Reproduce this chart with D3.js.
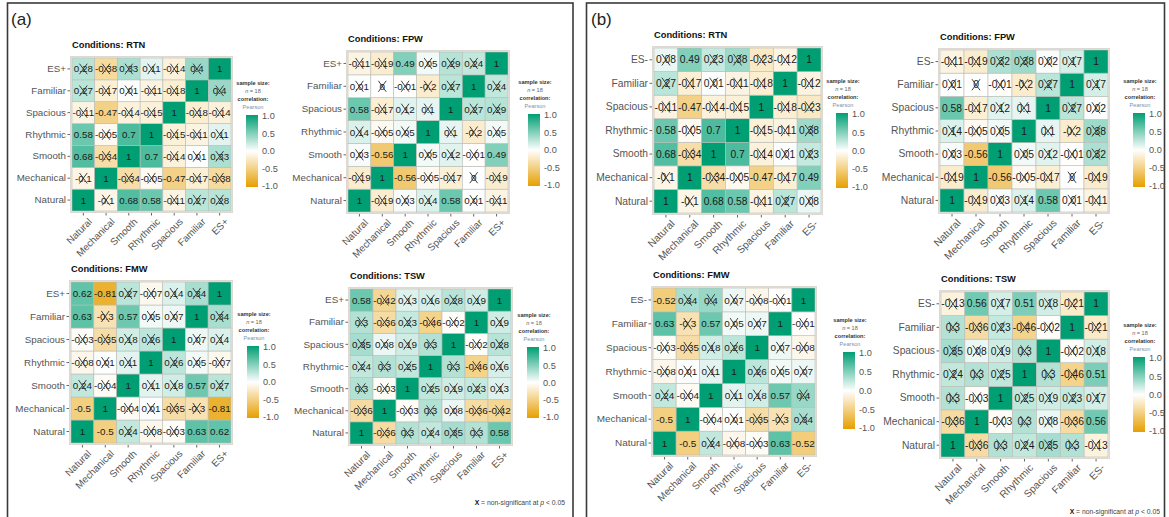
<!DOCTYPE html>
<html>
<head>
<meta charset="utf-8">
<script src="https://cdn.jsdelivr.net/npm/d3@7"></script>
<style>
  html, body { margin: 0; padding: 0; background: #fff; }
  svg { display: block; font-family: "Liberation Sans", Arial, sans-serif; }
</style>
</head>
<body>
<svg id="chart" width="1169" height="517"></svg>
<script>
// Variables, in axis order (bottom-to-top on y, left-to-right on x)
const varsPos = ["Natural", "Mechanical", "Smooth", "Rhythmic", "Spacious", "Familiar", "ES+"];
const varsNeg = ["Natural", "Mechanical", "Smooth", "Rhythmic", "Spacious", "Familiar", "ES-"];
const sampleSize = 18;
const legendTicks = [1.0, 0.5, 0.0, -0.5, -1.0];

// Pearson r for every pair (i<j), rows: Natural-*, Mechanical-*, Smooth-*, Rhythmic-*, Spacious-*, Familiar-*
const rtnPos = [-0.1, 0.68, 0.58, -0.11, 0.27, 0.28,
                -0.34, -0.05, -0.47, -0.17, -0.38,
                0.7, -0.14, 0.01, 0.33,
                -0.15, -0.11, 0.11,
                -0.18, -0.14,
                0.4];
const fpwPos = [-0.19, 0.03, 0.14, 0.58, 0.01, -0.11,
                -0.56, -0.05, -0.17, 0, -0.19,
                0.05, 0.12, -0.01, 0.49,
                0.1, -0.2, 0.05,
                0.27, 0.29,
                0.24];
const fmwPos = [-0.5, 0.24, -0.08, -0.03, 0.63, 0.62,
                -0.04, 0.01, -0.35, -0.3, -0.81,
                0.11, 0.18, 0.57, 0.27,
                0.26, 0.05, -0.07,
                0.07, 0.14,
                0.34];
const tswPos = [-0.36, 0.3, 0.24, 0.35, 0.3, 0.58,
                -0.03, 0.3, 0.08, -0.36, -0.42,
                0.25, 0.19, 0.23, 0.13,
                0.3, -0.46, 0.16,
                -0.02, 0.28,
                0.19];
const rtnNeg = [-0.1, 0.68, 0.58, -0.11, 0.27, 0.08,
                -0.34, -0.05, -0.47, -0.17, 0.49,
                0.7, -0.14, 0.01, 0.23,
                -0.15, -0.11, 0.38,
                -0.18, -0.23,
                -0.12];
const fpwNeg = [-0.19, 0.03, 0.14, 0.58, 0.01, -0.11,
                -0.56, -0.05, -0.17, 0, -0.19,
                0.05, 0.12, -0.01, 0.32,
                0.1, -0.2, 0.38,
                0.27, 0.02,
                0.17];
const fmwNeg = [-0.5, 0.24, -0.08, -0.03, 0.63, -0.52,
                -0.04, 0.01, -0.35, -0.3, 0.34,
                0.11, 0.18, 0.57, 0.4,
                0.26, 0.05, 0.07,
                0.07, -0.08,
                -0.01];
const tswNeg = [-0.36, 0.3, 0.24, 0.35, 0.3, -0.13,
                -0.03, 0.3, 0.08, -0.36, 0.56,
                0.25, 0.19, 0.23, 0.17,
                0.3, -0.46, 0.51,
                -0.02, 0.18,
                -0.21];

// Layout of each small heatmap: grid box [x0, y0, x1, y1] and colour bar [x, y, w, h]
const panels = [
  { title: "Conditions: RTN", vars: varsPos, r: rtnPos, grid: [72, 58, 231, 211],  bar: [246, 115, 12, 72] },
  { title: "Conditions: FPW", vars: varsPos, r: fpwPos, grid: [348, 52, 508, 212], bar: [528, 114, 12, 72] },
  { title: "Conditions: FMW", vars: varsPos, r: fmwPos, grid: [71, 282, 231, 443], bar: [247, 346, 12, 72] },
  { title: "Conditions: TSW", vars: varsPos, r: tswPos, grid: [350, 289, 511, 444], bar: [527, 347, 12, 71] },
  { title: "Conditions: RTN", vars: varsNeg, r: rtnNeg, grid: [654, 48, 821, 213], bar: [836, 113, 12, 75] },
  { title: "Conditions: FPW", vars: varsNeg, r: fpwNeg, grid: [940, 50, 1108, 212], bar: [1133, 113, 12, 74] },
  { title: "Conditions: FMW", vars: varsNeg, r: fmwNeg, grid: [653, 288, 815, 455], bar: [843, 352, 12, 77] },
  { title: "Conditions: TSW", vars: varsNeg, r: tswNeg, grid: [941, 292, 1108, 457], bar: [1133, 357, 12, 75] }
];

const svg = d3.select("#chart");
const color = d3.scaleLinear().domain([-1, 0, 1]).range(["#E69F00", "#ffffff", "#009E73"]);
const tCrit = 2.12; // two-sided 5% critical t for df = 16

function symMatrix(vals, k) {
  const m = Array.from({ length: k }, (_, i) => Array.from({ length: k }, (_, j) => i === j ? 1 : 0));
  let idx = 0;
  for (let i = 0; i < k; i++) {
    for (let j = i + 1; j < k; j++) {
      m[i][j] = vals[idx];
      m[j][i] = vals[idx];
      idx++;
    }
  }
  return m;
}

function significant(r, n) {
  if (Math.abs(r) >= 0.9999) return true;
  const t = Math.abs(r) * Math.sqrt(n - 2) / Math.sqrt(1 - r * r);
  return t >= tCrit;
}

// gradient for the colour bars
const defs = svg.append("defs");
const grad = defs.append("linearGradient").attr("id", "corrGrad")
  .attr("x1", 0).attr("y1", 1).attr("x2", 0).attr("y2", 0);
d3.range(0, 1.0001, 0.05).forEach(t => {
  grad.append("stop").attr("offset", t).attr("stop-color", color(-1 + 2 * t));
});

// outer frames
svg.append("rect").attr("x", 7.5).attr("y", 3).attr("width", 565.5).attr("height", 530)
  .attr("fill", "none").attr("stroke", "#3a3a3a").attr("stroke-width", 1.6);
svg.append("rect").attr("x", 586.5).attr("y", 3).attr("width", 578).attr("height", 530)
  .attr("fill", "none").attr("stroke", "#3a3a3a").attr("stroke-width", 1.6);
svg.append("text").attr("x", 11).attr("y", 25).attr("font-size", 17).attr("fill", "#222").text("(a)");
svg.append("text").attr("x", 591).attr("y", 25).attr("font-size", 17).attr("fill", "#222").text("(b)");

panels.forEach(p => {
  const [x0, y0, x1, y1] = p.grid;
  const vars = p.vars;
  const k = vars.length;
  const m = symMatrix(p.r, k);
  const x = d3.scaleBand().domain(vars).range([x0, x1]);
  const y = d3.scaleBand().domain(vars.slice().reverse()).range([y0, y1]);
  const cw = x.bandwidth(), ch = y.bandwidth();
  const fs = cw * 0.43;
  const g = svg.append("g");

  // panel title
  g.append("text").attr("x", x0).attr("y", y0 - 10).attr("font-size", 9.3)
    .attr("font-weight", "bold").attr("fill", "#111").text(p.title);

  // panel background frame
  g.append("rect").attr("x", x0 - 1.5).attr("y", y0 - 1.5)
    .attr("width", x1 - x0 + 3).attr("height", y1 - y0 + 3)
    .attr("fill", "#ebe8e2").attr("stroke", "#ddd9d2").attr("stroke-width", 1);

  const cells = [];
  vars.forEach((a, i) => vars.forEach((b, j) => cells.push({ a, b, r: m[i][j] })));

  g.selectAll("rect.cell").data(cells).join("rect").attr("class", "cell")
    .attr("x", d => x(d.a)).attr("y", d => y(d.b))
    .attr("width", cw).attr("height", ch)
    .attr("fill", d => color(d.r))
    .attr("stroke", "#b9bdb7").attr("stroke-width", 0.6);

  g.selectAll("text.val").data(cells).join("text").attr("class", "val")
    .attr("x", d => x(d.a) + cw / 2).attr("y", d => y(d.b) + ch / 2)
    .attr("dy", "0.36em").attr("text-anchor", "middle")
    .attr("font-size", fs).attr("fill", "#1a1a1a")
    .text(d => String(+d.r.toFixed(2)));

  // crosses over non-significant correlations
  const ns = cells.filter(d => !significant(d.r, sampleSize));
  const hw = cw * 0.17, hh = ch * 0.24;
  ns.forEach(d => {
    const cx = x(d.a) + cw / 2, cy = y(d.b) + ch / 2;
    g.append("path")
      .attr("d", `M${cx - hw},${cy - hh}L${cx + hw},${cy + hh}M${cx - hw},${cy + hh}L${cx + hw},${cy - hh}`)
      .attr("stroke", "#2a2a2a").attr("stroke-width", 0.9).attr("fill", "none");
  });

  // axes
  const yAxis = g.append("g").attr("transform", `translate(${x0 - 2},0)`)
    .call(d3.axisLeft(y).tickSize(2.5).tickPadding(1.5));
  yAxis.select(".domain").remove();
  yAxis.selectAll("text").attr("font-size", fs * 1.0).attr("fill", "#555")
    .attr("font-family", "Liberation Sans, Arial, sans-serif");
  yAxis.selectAll("line").attr("stroke", "#666");

  const xAxis = g.append("g").attr("transform", `translate(0,${y1 + 2})`)
    .call(d3.axisBottom(x).tickSize(2.5).tickPadding(1.5));
  xAxis.select(".domain").remove();
  xAxis.selectAll("line").attr("stroke", "#666");
  xAxis.selectAll("text").attr("font-size", fs * 1.0).attr("fill", "#555")
    .attr("font-family", "Liberation Sans, Arial, sans-serif")
    .attr("text-anchor", "end").attr("dy", "0.5em")
    .attr("transform", "translate(3,3) rotate(-45)");

  // legend
  const [bx, by, bw, bh] = p.bar;
  const lc = bx + bw / 2 + 1;
  const lg = g.append("g").attr("font-size", 5.6).attr("fill", "#333").attr("text-anchor", "middle");
  lg.append("text").attr("x", lc).attr("y", by - 30).attr("font-weight", "bold").text("sample size:");
  const nt = lg.append("text").attr("x", lc).attr("y", by - 22).attr("fill", "#666");
  nt.append("tspan").attr("font-style", "italic").text("n");
  nt.append("tspan").text(" = " + sampleSize);
  lg.append("text").attr("x", lc).attr("y", by - 14).attr("font-weight", "bold").text("correlation:");
  lg.append("text").attr("x", lc).attr("y", by - 6).attr("fill", "#7a93ad").text("Pearson");

  g.append("rect").attr("x", bx).attr("y", by).attr("width", bw).attr("height", bh)
    .attr("fill", "url(#corrGrad)");
  const ls = d3.scaleLinear().domain([-1, 1]).range([by + bh - 1, by + 1]);
  const la = g.append("g").attr("transform", `translate(${bx + bw},0)`)
    .call(d3.axisRight(ls).tickValues(legendTicks).tickSize(0).tickPadding(4)
      .tickFormat(d => d.toFixed(1)));
  la.select(".domain").remove();
  la.selectAll("text").attr("font-size", 9.2).attr("fill", "#555")
    .attr("font-family", "Liberation Sans, Arial, sans-serif");
});

// footnotes
function footnote(xr, yb) {
  const t = svg.append("text").attr("x", xr).attr("y", yb).attr("text-anchor", "end")
    .attr("font-size", 6.8).attr("fill", "#444");
  t.append("tspan").attr("font-weight", "bold").attr("fill", "#111").text("X");
  t.append("tspan").text(" = non-significant at ");
  t.append("tspan").attr("font-style", "italic").text("p");
  t.append("tspan").text(" < 0.05");
}
footnote(565, 505);
footnote(1160, 514);
</script>
</body>
</html>
